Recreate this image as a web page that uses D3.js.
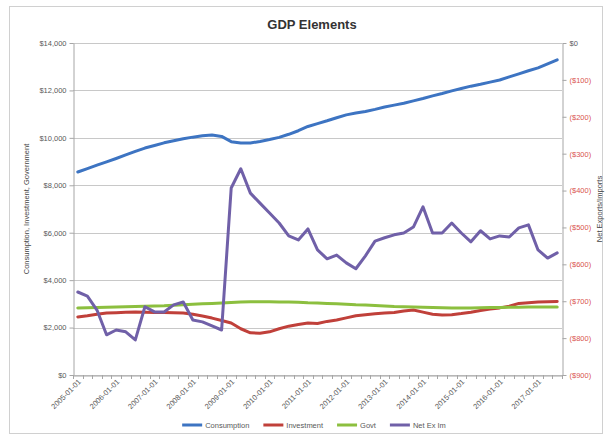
<!DOCTYPE html>
<html>
<head>
<meta charset="utf-8">
<script src="https://cdn.jsdelivr.net/npm/d3@7"></script>
<style>
    body { margin: 0; background: #fff; }
    text { font-family: "Liberation Sans", Arial, sans-serif; }
</style>
</head>
<body>
<svg id="chart" width="605" height="442"></svg>
<script>
// quarterly categories, 2005 Q1 .. 2017 Q3
const quarters = [
    '2005-01-01', '2005-04-01', '2005-07-01', '2005-10-01',
    '2006-01-01', '2006-04-01', '2006-07-01', '2006-10-01',
    '2007-01-01', '2007-04-01', '2007-07-01', '2007-10-01',
    '2008-01-01', '2008-04-01', '2008-07-01', '2008-10-01',
    '2009-01-01', '2009-04-01', '2009-07-01', '2009-10-01',
    '2010-01-01', '2010-04-01', '2010-07-01', '2010-10-01',
    '2011-01-01', '2011-04-01', '2011-07-01', '2011-10-01',
    '2012-01-01', '2012-04-01', '2012-07-01', '2012-10-01',
    '2013-01-01', '2013-04-01', '2013-07-01', '2013-10-01',
    '2014-01-01', '2014-04-01', '2014-07-01', '2014-10-01',
    '2015-01-01', '2015-04-01', '2015-07-01', '2015-10-01',
    '2016-01-01', '2016-04-01', '2016-07-01', '2016-10-01',
    '2017-01-01', '2017-04-01', '2017-07-01'
];

// left axis series ($ billions)
const consumption = [
    8560, 8700, 8850, 8990, 9130, 9280, 9430, 9570, 9680, 9790, 9880, 9960,
    10030, 10090, 10120, 10060, 9840, 9780, 9780, 9850, 9930, 10020, 10150, 10300,
    10480, 10600, 10720, 10850, 10970, 11050, 11110, 11200, 11300, 11380, 11460, 11560,
    11660, 11770, 11870, 11980, 12080, 12180, 12260, 12350, 12440, 12570, 12700, 12830,
    12950, 13120, 13290
];
const investment = [
    2450, 2500, 2560, 2610, 2630, 2650, 2660, 2650, 2640, 2640, 2630, 2610,
    2560, 2490, 2400, 2300, 2190, 1950, 1780, 1760, 1820, 1950, 2060, 2130,
    2190, 2170, 2260, 2320, 2410, 2500, 2540, 2580, 2610, 2640, 2700, 2740,
    2650, 2560, 2530, 2540, 2590, 2650, 2720, 2780, 2830, 2900, 3020, 3050,
    3080, 3090, 3100
];
const govt = [
    2830, 2840, 2850, 2860, 2870, 2880, 2890, 2900, 2910, 2920, 2940, 2960,
    2980, 3000, 3020, 3040, 3060, 3080, 3090, 3090, 3090, 3080, 3080, 3070,
    3050, 3040, 3020, 3000, 2980, 2960, 2950, 2930, 2910, 2890, 2880, 2870,
    2860, 2850, 2840, 2830, 2830, 2830, 2840, 2850, 2850, 2860, 2860, 2870,
    2870, 2870, 2870
];
// right axis series
const netExports = [
    -675, -686, -724, -791, -778, -783, -805, -715, -729, -729, -710, -702,
    -751, -756, -767, -778, -393, -341, -407, -434, -461, -488, -523, -534,
    -504, -561, -585, -575, -596, -612, -577, -537, -528, -520, -515, -499,
    -444, -515, -515, -488, -515, -539, -509, -531, -523, -526, -501, -493,
    -561, -583, -569
];

const leftTicks = [0, 2000, 4000, 6000, 8000, 10000, 12000, 14000];
const rightTicks = [0, -100, -200, -300, -400, -500, -600, -700, -800, -900];

const seriesNames = ['Consumption', 'Investment', 'Govt', 'Net Ex Im'];
const seriesColors = ['#3d74c2', '#c0403a', '#8cbf3f', '#7060a8'];

const WIDTH = 605;
const HEIGHT = 442;
const plot = { left: 73, right: 562, top: 43, bottom: 375 };

const svg = d3.select('#chart');

// outer frame
svg.append('rect')
    .attr('x', 9.5).attr('y', 6.5)
    .attr('width', 593).attr('height', 427)
    .attr('fill', '#fff')
    .attr('stroke', '#d0d0d0');

const x = d3.scaleBand().domain(quarters).range([plot.left, plot.right]).padding(0);
const yLeft = d3.scaleLinear().domain([0, 14000]).range([plot.bottom, plot.top]);
const yRight = d3.scaleLinear().domain([-900, 0]).range([plot.bottom, plot.top]);

// gridlines from the left axis
svg.append('g')
    .selectAll('line')
    .data(leftTicks)
    .join('line')
    .attr('x1', plot.left).attr('x2', plot.right)
    .attr('y1', d => Math.round(yLeft(d)) + 0.5)
    .attr('y2', d => Math.round(yLeft(d)) + 0.5)
    .attr('stroke', '#c8c8c8');

function styleAxis(g, textColor) {
    g.select('.domain').attr('stroke', '#a6a6a6');
    g.selectAll('.tick line').attr('stroke', '#a6a6a6');
    g.selectAll('.tick text')
        .attr('font-size', 7.5)
        .attr('fill', textColor);
}

// left axis
svg.append('g')
    .attr('transform', `translate(${plot.left + 0.5},0)`)
    .call(d3.axisLeft(yLeft).tickValues(leftTicks).tickFormat(d3.format('$,')).tickSize(4).tickSizeOuter(0))
    .call(g => styleAxis(g, '#595959'));

// right axis, negatives in red
svg.append('g')
    .attr('transform', `translate(${plot.right + 0.5},0)`)
    .call(d3.axisRight(yRight).tickValues(rightTicks)
        .tickFormat(d => d === 0 ? '$0' : `($${-d})`).tickSize(4).tickSizeOuter(0))
    .call(g => styleAxis(g, '#595959'))
    .call(g => g.selectAll('.tick text').filter(d => d < 0).attr('fill', '#d9534f'));

// bottom axis: labels on January quarters
const xAxis = svg.append('g')
    .attr('transform', `translate(0,${plot.bottom + 0.5})`)
    .call(d3.axisBottom(x).tickValues(quarters.filter(q => q.endsWith('-01-01'))).tickSize(0).tickSizeOuter(0))
    .call(g => styleAxis(g, '#595959'));

xAxis.selectAll('.tick text')
    .attr('text-anchor', 'end')
    .attr('transform', 'rotate(-45)')
    .attr('dx', '-0.3em')
    .attr('dy', '0.6em');

// minor ticks at category boundaries
svg.append('g')
    .selectAll('line')
    .data(quarters.map(q => x(q)).concat([plot.right]))
    .join('line')
    .attr('x1', d => Math.round(d) + 0.5).attr('x2', d => Math.round(d) + 0.5)
    .attr('y1', plot.bottom).attr('y2', plot.bottom + 4)
    .attr('stroke', '#a6a6a6');

// series lines
const xPos = (d, i) => x(quarters[i]) + x.bandwidth() / 2;
const leftLine = d3.line().x(xPos).y(d => yLeft(d));
const rightLine = d3.line().x(xPos).y(d => yRight(d));

const seriesPaths = [
    [consumption, leftLine],
    [investment, leftLine],
    [govt, leftLine],
    [netExports, rightLine]
];

seriesPaths.forEach(([values, gen], k) => {
    svg.append('path')
        .datum(values)
        .attr('d', gen)
        .attr('fill', 'none')
        .attr('stroke', seriesColors[k])
        .attr('stroke-width', 3)
        .attr('stroke-linejoin', 'round')
        .attr('stroke-linecap', 'round');
});

// title
svg.append('text')
    .attr('x', 312).attr('y', 29)
    .attr('text-anchor', 'middle')
    .attr('font-size', 13)
    .attr('font-weight', 'bold')
    .attr('fill', '#333')
    .text('GDP Elements');

// axis titles
svg.append('text')
    .attr('transform', `translate(29,${(plot.top + plot.bottom) / 2}) rotate(-90)`)
    .attr('text-anchor', 'middle')
    .attr('font-size', 7.5)
    .attr('fill', '#444')
    .text('Consumption, Investment, Government');

svg.append('text')
    .attr('transform', `translate(602,${(plot.top + plot.bottom) / 2}) rotate(-90)`)
    .attr('text-anchor', 'middle')
    .attr('font-size', 7.5)
    .attr('fill', '#444')
    .text('Net Exports/Imports');

// legend, laid out left to right then centred
const legend = svg.append('g');
let cursor = 0;
seriesNames.forEach((name, k) => {
    const item = legend.append('g').attr('transform', `translate(${cursor},0)`);
    item.append('line')
        .attr('x1', 0).attr('x2', 20)
        .attr('y1', 0).attr('y2', 0)
        .attr('stroke', seriesColors[k])
        .attr('stroke-width', 3);
    const label = item.append('text')
        .attr('x', 23).attr('y', 3)
        .attr('font-size', 7.5)
        .attr('fill', '#595959')
        .text(name);
    cursor += 23 + label.node().getComputedTextLength() + 14;
});
const legendWidth = cursor - 14;
legend.attr('transform', `translate(${314 - legendWidth / 2},425)`);
</script>
</body>
</html>
